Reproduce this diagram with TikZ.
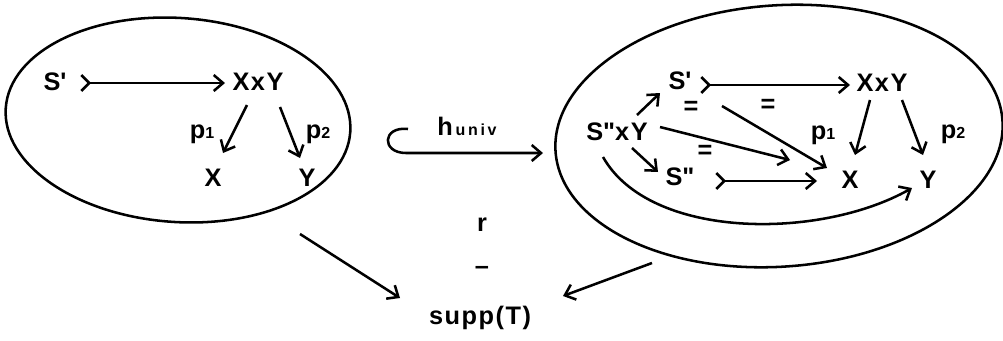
\documentclass[tikz,border=0pt]{standalone}
\usepackage{fontspec}
\setmainfont{Liberation Sans}[LetterSpace=6]
\usetikzlibrary{arrows.meta,shapes.geometric,calc}
\begin{document}
\begin{tikzpicture}[x=0.75pt,y=-0.75pt, line width=1.9pt,
  lbl/.style={font=\fontsize{19}{22}\selectfont\bfseries, inner sep=1pt},
  eq/.style={font=\fontsize{19}{22}\selectfont\bfseries, inner sep=0pt},
  arr/.style={-{Straight Barb[length=7pt,width=12pt]}},
  mono/.style={{Straight Barb[reversed,length=6pt,width=12pt]}-{Straight Barb[length=7pt,width=12pt]}},
  oval/.style={draw, ellipse, inner sep=0pt}]
\newcommand{\sub}[1]{{\fontsize{12}{12}\selectfont #1}}
\useasboundingbox (0,0) rectangle (1003,340);

% ellipses
\node[oval, minimum width=259pt, minimum height=153pt, rotate=-4] (L) at (178,120) {};
\node[oval, minimum width=336pt, minimum height=196pt, rotate=4] (R) at (779,136) {};

% left diagram
\node[lbl] (ls) at (55,82) {S\textquotesingle};
\node[lbl] (lxy) at (258,82) {XxY};
\node[lbl] (lx) at (213,178) {X};
\node[lbl] (ly) at (307,178) {Y};
\node[lbl] (lp1) at (202,134) {p\sub{1}};
\node[lbl] (lp2) at (318,134) {p\sub{2}};
\draw[mono] ($(ls)+(25,1)$) -- ($(lxy)+(-33,1)$);
\draw[arr] ($(lxy)+(-11,23)$) -- ($(lx)+(10,-25)$);
\draw[arr] ($(lxy)+(22,25)$) -- ($(ly)+(-7,-20)$);

% middle
\coordinate (hs) at (408,129);
\coordinate (he) at (543,153);
\draw[arr] (hs) .. controls (382,126) and (381,153) .. (406,153) -- (he);
\node[lbl] (hu) at (467,126) {h\sub{\,u\,n\,i\,v}};
\node[lbl] (r) at (482,225) {r};
\node[lbl] (dash) at (482,270) {--};
\node[lbl] (supp) at (480,318) {supp(T)};
\coordinate (la) at (300,234);
\coordinate (ra) at (652,263);
\draw[arr] (la) -- ($(supp)+(-80,-20)$);
\draw[arr] (ra) -- ($(supp)+(83,-22)$);

% right diagram
\node[lbl] (rs) at (680,81) {S\textquotesingle};
\node[lbl] (rxy) at (882,83) {XxY};
\node[lbl] (rsy) at (617,132) {S\textquotedbl xY};
\node[lbl] (rss) at (680,177) {S\textquotedbl};
\node[lbl] (rx) at (850,180) {X};
\node[lbl] (ry) at (928,180) {Y};
\node[lbl] (rp1) at (823,135) {p\sub{1}};
\node[lbl] (rp2) at (953,134) {p\sub{2}};
\node[eq] (e1) at (691,108) {=};
\node[eq] (e2) at (768,106) {=};
\node[eq] (e3) at (705,152) {=};
\draw[mono] ($(rs)+(20,4)$) -- ($(rxy)+(-32,2)$);
\draw[arr] ($(rxy)+(-12,17)$) -- ($(rx)+(5,-25)$);
\draw[arr] ($(rxy)+(20,17)$) -- ($(ry)+(-5,-25)$);
\draw[arr] ($(rsy)+(20,-17)$) -- ($(rs)+(-20,12)$);
\draw[arr] ($(rsy)+(15,16)$) -- ($(rss)+(-22,-5)$);
\draw[arr] ($(rsy)+(43,-5)$) -- ($(rx)+(-60,-20)$);
\draw[arr] ($(rs)+(42,25)$) -- ($(rx)+(-23,-12)$);
\draw[mono] ($(rss)+(35,4)$) -- ($(rx)+(-33,1)$);
\draw[arr] ($(rsy)+(-14,25)$) .. controls (650,240) and (820,240) .. ($(ry)+(-16,8)$);
\end{tikzpicture}
\end{document}
